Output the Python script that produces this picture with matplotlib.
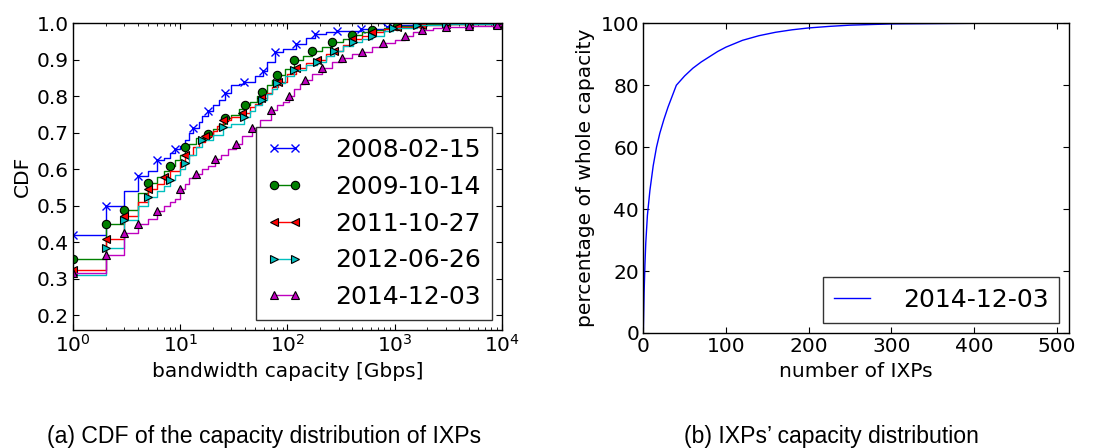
import matplotlib
matplotlib.use('Agg')
import matplotlib.pyplot as plt
from matplotlib.ticker import FormatStrFormatter

# (a) CDF of bandwidth capacity, step points
labels = ['2008-02-15', '2009-10-14', '2011-10-27', '2012-06-26', '2014-12-03']

x_2008 = [1, 2, 3, 4, 5, 6, 7, 8, 9, 10, 11, 12, 13, 15, 16, 18, 20, 23, 26, 30, 35, 39,
          50, 59, 65, 77, 90, 120, 150, 181, 230, 290, 490, 850, 1000, 1500, 10000]
y_2008 = [0.42, 0.50, 0.54, 0.583, 0.595, 0.625, 0.63, 0.645, 0.655, 0.665, 0.68, 0.70,
          0.713, 0.73, 0.745, 0.76, 0.775, 0.79, 0.81, 0.83, 0.835, 0.84, 0.855, 0.87,
          0.895, 0.921, 0.93, 0.943, 0.96, 0.97, 0.975, 0.98, 0.984, 0.99, 0.995, 1.0, 1.0]
m_2008 = [1, 2, 4, 6, 9, 13, 18, 26, 39, 59, 77, 120, 181, 290, 490, 850]

x_2009 = [1, 2, 3, 4, 5, 6, 7, 8, 9, 10, 11, 12, 14, 18, 20, 23, 26, 30, 35, 40, 45, 52,
          58, 65, 72, 80, 95, 115, 140, 170, 210, 260, 330, 400, 500, 620, 800, 1050,
          1800, 3000, 5000, 9000, 10000]
y_2009 = [0.355, 0.45, 0.49, 0.535, 0.562, 0.58, 0.595, 0.61, 0.625, 0.64, 0.66, 0.67,
          0.685, 0.697, 0.71, 0.725, 0.74, 0.75, 0.765, 0.775, 0.785, 0.80, 0.813, 0.83,
          0.845, 0.858, 0.875, 0.90, 0.91, 0.925, 0.935, 0.948, 0.958, 0.967, 0.975,
          0.982, 0.988, 0.993, 0.997, 0.998, 0.999, 0.999, 1.0]
m_2009 = [1, 2, 3, 5, 8, 11, 18, 26, 40, 58, 80, 115, 170, 260, 400, 620, 1050, 1800,
          3000, 5000, 9000]

x_2011 = [1, 2, 3, 4, 5, 6, 7, 8, 10, 11, 13, 15, 17, 20, 22, 25, 30, 38, 45, 50, 57, 65,
          72, 82, 100, 120, 150, 190, 230, 270, 330, 400, 500, 620, 800, 1050, 1800,
          3000, 5000, 9000, 10000]
y_2011 = [0.325, 0.408, 0.473, 0.51, 0.545, 0.56, 0.578, 0.595, 0.62, 0.64, 0.66, 0.675,
          0.69, 0.705, 0.72, 0.735, 0.742, 0.755, 0.77, 0.78, 0.795, 0.81, 0.825, 0.838,
          0.86, 0.877, 0.89, 0.90, 0.915, 0.925, 0.94, 0.956, 0.965, 0.975, 0.985, 0.99,
          0.995, 0.997, 0.998, 0.999, 1.0]
m_2011 = [1, 2, 3, 5, 7, 11, 17, 25, 38, 57, 82, 120, 190, 270, 400, 620, 1050, 1800,
          3000, 5000, 9000]

x_2012 = [1, 2, 3, 4, 5, 6, 7, 8, 9, 10, 11, 12, 14, 16, 20, 25, 30, 39, 45, 50, 58, 65,
          72, 79, 95, 116, 150, 187, 230, 272, 330, 406, 500, 611, 800, 976, 1620, 3000,
          5000, 9000, 10000]
y_2012 = [0.31, 0.385, 0.462, 0.50, 0.524, 0.54, 0.555, 0.57, 0.585, 0.60, 0.618, 0.64,
          0.66, 0.68, 0.695, 0.715, 0.725, 0.744, 0.76, 0.775, 0.79, 0.805, 0.82, 0.837,
          0.855, 0.872, 0.885, 0.895, 0.91, 0.924, 0.938, 0.95, 0.958, 0.965, 0.978,
          0.986, 0.994, 0.997, 0.998, 0.999, 1.0]
m_2012 = [1, 2, 3, 5, 8, 11, 16, 25, 39, 58, 79, 116, 187, 272, 406, 611, 976, 1620,
          3000, 5000, 9000]

x_2014 = [1, 2, 3, 4, 5, 6, 7, 8, 9, 10, 11, 12, 14, 16, 18, 21, 24, 28, 33, 38, 47, 55,
          70, 80, 90, 104, 115, 130, 145, 170, 210, 260, 320, 400, 500, 620, 780, 1000,
          1250, 1500, 1800, 2300, 3000, 5000, 9000, 10000]
y_2014 = [0.315, 0.365, 0.425, 0.45, 0.465, 0.487, 0.50, 0.51, 0.52, 0.547, 0.56, 0.575,
          0.588, 0.60, 0.61, 0.627, 0.64, 0.655, 0.67, 0.69, 0.713, 0.735, 0.762, 0.775,
          0.785, 0.80, 0.82, 0.835, 0.845, 0.86, 0.878, 0.895, 0.906, 0.915, 0.922, 0.935,
          0.946, 0.955, 0.965, 0.975, 0.983, 0.988, 0.991, 0.993, 0.996, 1.0]
m_2014 = [1, 2, 3, 4, 6, 10, 14, 21, 33, 47, 70, 104, 145, 210, 320, 500, 780, 1250, 1800,
          3000, 5000, 9000]

# (b) cumulative share of total capacity vs number of IXPs
n_ixps = [0, 1, 2, 3, 5, 8, 12, 16, 20, 25, 30, 35, 40, 50, 60, 70, 80, 90, 100, 120, 140,
          160, 180, 200, 225, 250, 275, 300, 350, 400, 450, 515]
pct_capacity = [0, 13, 22, 29, 38, 46, 54, 60, 64.5, 69, 73, 76.5, 80, 83, 85.5, 87.5,
                89.2, 90.9, 92.3, 94.5, 96, 97.1, 97.9, 98.5, 99.0, 99.4, 99.6, 99.8,
                99.9, 100, 100, 100]

series = [(x_2008, y_2008, m_2008, 'b', 'x'),
          (x_2009, y_2009, m_2009, 'g', 'o'),
          (x_2011, y_2011, m_2011, 'r', '<'),
          (x_2012, y_2012, m_2012, 'c', '>'),
          (x_2014, y_2014, m_2014, 'm', '^')]

plt.rcParams['font.family'] = ['DejaVu Sans']
fig = plt.figure(figsize=(10.97, 4.48), dpi=100)
ax1 = fig.add_axes([0.0668, 0.2634, 0.3905, 0.6846])
ax2 = fig.add_axes([0.5864, 0.2567, 0.3881, 0.6913])

for (xs, ys, marks, col, mk), lab in zip(series, labels):
    idx = [xs.index(v) for v in marks]
    if mk == 'x':
        ax1.step(xs, ys, where='post', color=col, lw=1, marker=mk, markevery=idx,
                 ms=6, mew=1, mec=col, label=lab)
    else:
        ax1.step(xs, ys, where='post', color=col, lw=1, marker=mk, markevery=idx,
                 ms=6, mew=0.8, mec='k', mfc=col, label=lab)

ax1.set_xscale('log')
ax1.set_xlim(1, 1e4)
ax1.set_ylim(0.16, 1.0)
ax1.set_yticks([0.2, 0.3, 0.4, 0.5, 0.6, 0.7, 0.8, 0.9, 1.0])
ax1.yaxis.set_major_formatter(FormatStrFormatter('%.1f'))
ax1.set_xlabel('bandwidth capacity [Gbps]', fontsize=14.5)
ax1.set_ylabel('CDF', fontsize=14.5)
leg1 = ax1.legend(loc='lower right', fontsize=18, numpoints=2, handlelength=1.45,
                  handletextpad=1.3, labelspacing=0.51, borderpad=0.43,
                  borderaxespad=0.4, fancybox=False, framealpha=1, edgecolor='0.2')
leg1.get_frame().set_linewidth(1)

ax2.plot(n_ixps, pct_capacity, color='b', lw=1, label='2014-12-03')
ax2.set_xlim(0, 515)
ax2.set_ylim(0, 100)
ax2.set_xticks([0, 100, 200, 300, 400, 500])
ax2.set_yticks([0, 20, 40, 60, 80, 100])
ax2.set_xlabel('number of IXPs', fontsize=14.5)
ax2.set_ylabel('percentage of whole capacity', fontsize=14.5)
leg2 = ax2.legend(loc='lower right', fontsize=18, handlelength=1.45,
                  handletextpad=1.3, borderpad=0.43, borderaxespad=0.4,
                  fancybox=False, framealpha=1, edgecolor='0.2')
leg2.get_frame().set_linewidth(1)

for ax in (ax1, ax2):
    ax.tick_params(which='major', direction='in', top=True, right=True, length=4,
                   width=0.8, labelsize=14.5, pad=3)
    ax.tick_params(which='minor', direction='in', top=True, right=True, length=2,
                   width=0.6)
    for s in ax.spines.values():
        s.set_linewidth(1)
ax2.minorticks_off()
ax1.tick_params(axis='y', which='minor', left=False, right=False)

cap_font = ['Liberation Sans', 'DejaVu Sans']
fig.text(0.241, 0.011, '(a) CDF of the capacity distribution of IXPs', ha='center',
         va='baseline', fontsize=16.6, family=cap_font)
fig.text(0.758, 0.011, '(b) IXPs\u2019 capacity distribution', ha='center',
         va='baseline', fontsize=16.6, family=cap_font)

fig.savefig('out.png', dpi=100)
